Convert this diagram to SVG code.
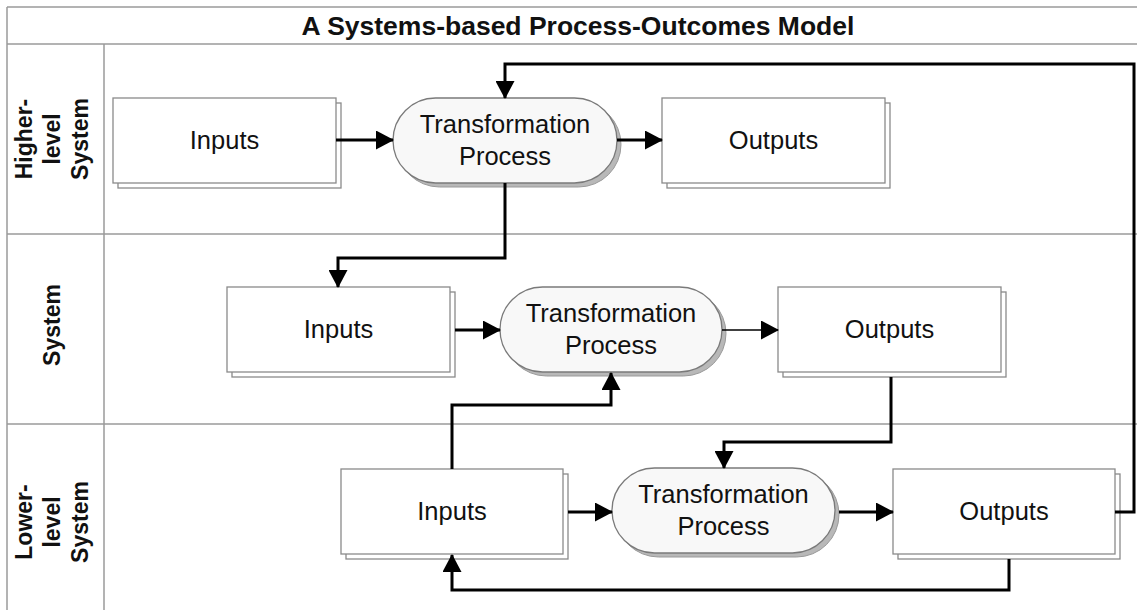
<svg xmlns="http://www.w3.org/2000/svg" width="1137" height="610" viewBox="0 0 1137 610">
<defs>
<style>
.frame{stroke:#9a9a9a;stroke-width:1.5;fill:none}
.box{fill:#fff;stroke:#8a8a8a;stroke-width:1.3}
.tp{fill:#f8f8f8;stroke:#7a7a7a;stroke-width:1.3}
.tpsh{fill:#b8b8b8;stroke:#9a9a9a;stroke-width:1}
.lbl{font-family:"Liberation Sans",Arial,sans-serif;font-size:25.5px;fill:#111;text-anchor:middle}
.lane{font-family:"Liberation Sans",Arial,sans-serif;font-size:23px;font-weight:bold;fill:#111;text-anchor:middle}
.title{font-family:"Liberation Sans",Arial,sans-serif;font-size:26.5px;font-weight:bold;fill:#111;text-anchor:middle}
.c{fill:none;stroke:#000;stroke-width:3;marker-end:url(#ah)}
.thin{fill:none;stroke:#000;stroke-width:1.6;marker-end:url(#ah)}
</style>
<marker id="ah" markerUnits="userSpaceOnUse" markerWidth="18" markerHeight="19" refX="17" refY="9.5" orient="auto">
<path d="M0,0 L18,9.5 L0,19 z" fill="#000"/>
</marker>
</defs>
<rect width="1137" height="610" fill="#fff"/>
<g id="frame">
<line class="frame" x1="7" y1="7" x2="1137" y2="7"/>
<line class="frame" x1="7" y1="44" x2="1137" y2="44"/>
<line class="frame" x1="7" y1="7" x2="7" y2="610"/>
<line class="frame" x1="104" y1="44" x2="104" y2="610"/>
<line class="frame" x1="7" y1="234" x2="1137" y2="234"/>
<line class="frame" x1="7" y1="424" x2="1137" y2="424"/>
<text class="title" x="578" y="35">A Systems-based Process-Outcomes Model</text>
</g>
<g id="lane-higher">
<text class="lane" transform="translate(0,139) rotate(-90)"><tspan x="0" y="32">Higher-</tspan><tspan x="0" y="60">level</tspan><tspan x="0" y="88">System</tspan></text>
</g>
<g id="lane-system">
<text class="lane" transform="translate(0,325) rotate(-90)"><tspan x="0" y="60">System</tspan></text>
</g>
<g id="lane-lower">
<text class="lane" transform="translate(0,522) rotate(-90)"><tspan x="0" y="32">Lower-</tspan><tspan x="0" y="60">level</tspan><tspan x="0" y="88">System</tspan></text>
</g>
<g id="h-inputs">
<rect class="box" x="118" y="103" width="223" height="85"/>
<rect class="box" x="113" y="98" width="223" height="85"/>
<text class="lbl" x="224.5" y="149">Inputs</text>
</g>
<g id="h-tp">
<rect class="tpsh" x="397" y="102" width="224" height="85" rx="42.5"/>
<rect class="tp" x="393" y="98" width="224" height="85" rx="42.5"/>
<text class="lbl" x="505" y="133">Transformation</text>
<text class="lbl" x="505" y="165">Process</text>
</g>
<g id="h-outputs">
<rect class="box" x="667" y="103" width="223" height="85"/>
<rect class="box" x="662" y="98" width="223" height="85"/>
<text class="lbl" x="773.5" y="149">Outputs</text>
</g>
<g id="s-inputs">
<rect class="box" x="232" y="292" width="223" height="85"/>
<rect class="box" x="227" y="287" width="223" height="85"/>
<text class="lbl" x="338.5" y="338">Inputs</text>
</g>
<g id="s-tp">
<rect class="tpsh" x="504" y="291" width="222" height="85" rx="42.5"/>
<rect class="tp" x="500" y="287" width="222" height="85" rx="42.5"/>
<text class="lbl" x="611" y="322">Transformation</text>
<text class="lbl" x="611" y="354">Process</text>
</g>
<g id="s-outputs">
<rect class="box" x="783" y="292" width="223" height="85"/>
<rect class="box" x="778" y="287" width="223" height="85"/>
<text class="lbl" x="889.5" y="338">Outputs</text>
</g>
<g id="l-inputs">
<rect class="box" x="346" y="474" width="222" height="85"/>
<rect class="box" x="341" y="469" width="222" height="85"/>
<text class="lbl" x="452" y="520">Inputs</text>
</g>
<g id="l-tp">
<rect class="tpsh" x="616" y="472" width="223" height="85" rx="42.5"/>
<rect class="tp" x="612" y="468" width="223" height="85" rx="42.5"/>
<text class="lbl" x="723.5" y="503">Transformation</text>
<text class="lbl" x="723.5" y="535">Process</text>
</g>
<g id="l-outputs">
<rect class="box" x="898" y="474" width="222" height="85"/>
<rect class="box" x="893" y="469" width="222" height="85"/>
<text class="lbl" x="1004" y="520">Outputs</text>
</g>
<g id="connectors">
<path class="c" d="M336,140 H393"/>
<path class="c" d="M617,140 H662"/>
<path class="c" d="M505,183 V258 H338 V287"/>
<path class="c" d="M1115,512 H1134 V64 H505 V98"/>
<path class="c" d="M455,330 H500"/>
<path class="thin" d="M722,330 H778"/>
<path class="c" d="M891,377 V442 H724 V468"/>
<path class="c" d="M452,469 V405 H611 V373"/>
<path class="c" d="M568,512 H612"/>
<path class="c" d="M839,512 H893"/>
<path class="c" d="M1009,559 V590 H452 V555"/>
</g>
</svg>
